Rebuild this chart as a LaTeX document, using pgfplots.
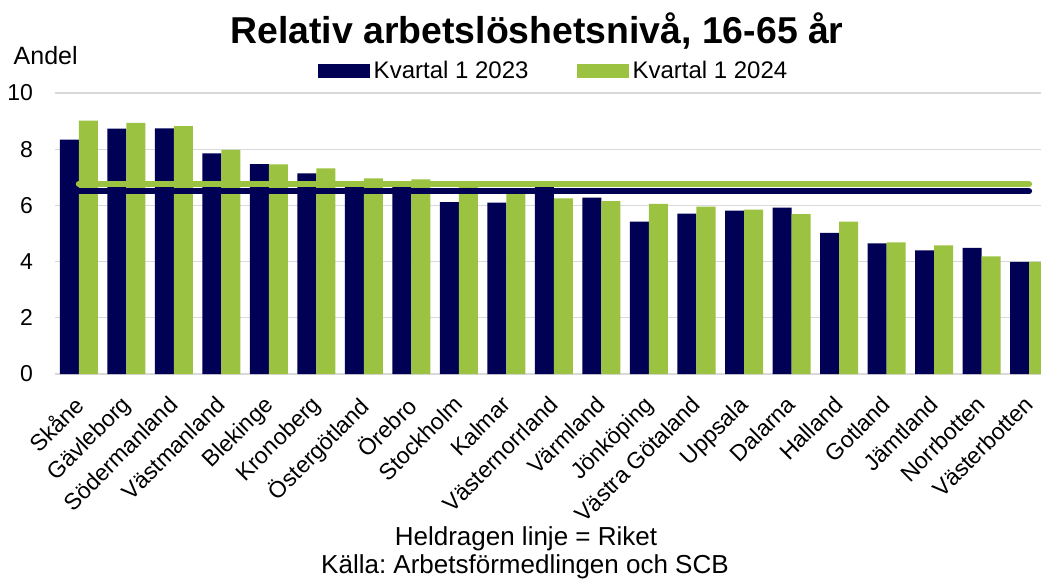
\documentclass[border=0pt]{standalone}
\usepackage{fontspec}
\setmainfont{Liberation Sans}
\usepackage{pgfplots}
\pgfplotsset{compat=1.18}

\definecolor{navy}{RGB}{0,0,84}
\definecolor{lgreen}{RGB}{155,194,64}
\definecolor{gridgray}{RGB}{217,217,217}

% columns: region, Q1 2023, Q1 2024
\pgfplotstableread{
x  a     b
0  8.34  9.02
1  8.73  8.94
2  8.74  8.82
3  7.85  7.98
4  7.47  7.46
5  7.14  7.32
6  6.68  6.96
7  6.66  6.93
8  6.12  6.65
9  6.10  6.40
10 6.66  6.25
11 6.28  6.15
12 5.42  6.05
13 5.71  5.96
14 5.81  5.85
15 5.92  5.69
16 5.02  5.42
17 4.65  4.68
18 4.40  4.58
19 4.49  4.19
20 3.99  3.99
}\regions

\begin{document}
\frenchspacing
\begin{tikzpicture}
  \begin{axis}[
    at={(0,0)}, anchor=south west,
    scale only axis,
    width=493pt, height=140.5pt,
    xmin=-0.5, xmax=20.25,
    ymin=0, ymax=10,
    ytick={0,2,...,10},
    xtick={0,...,20},
    xticklabels={Skåne,Gävleborg,Södermanland,Västmanland,Blekinge,Kronoberg,
      Östergötland,Örebro,Stockholm,Kalmar,Västernorrland,Värmland,Jönköping,
      Västra Götaland,Uppsala,Dalarna,Halland,Gotland,Jämtland,Norrbotten,Västerbotten},
    axis line style={draw=none},
    major tick length=0pt,
    ymajorgrids,
    grid style={gridgray, line width=0.65pt},
    /pgf/number format/assume math mode=true,
    yticklabel style={font=\fontsize{11.5}{13}\selectfont, anchor=east,
      inner sep=0pt, xshift=-10.85pt},
    xticklabel style={font=\fontsize{11.5}{13}\selectfont,
      xshift=-3.25pt, yshift=-10pt, rotate=45,
      anchor=north east, inner sep=0pt},
    legend style={at={(axis description cs:0.5066,1.078)}, anchor=center,
      draw=none, fill=none, legend columns=2,
      font=\fontsize{12}{14}\selectfont,
      /tikz/every even column/.append style={column sep=22pt}},
    legend image code/.code={\fill (0pt,-3.5pt) rectangle (26pt,3.5pt);},
  ]
    \addplot[ybar, bar width=0.4, bar shift=-0.2, fill=navy, draw=none]
      table[x=x, y=a] {\regions};
    \addlegendentry{Kvartal 1 2023}
    \addplot[ybar, bar width=0.4, bar shift=0.2, fill=lgreen, draw=none]
      table[x=x, y=b] {\regions};
    \addlegendentry{Kvartal 1 2024}
    % national level (Riket)
    \addplot[forget plot, sharp plot, draw=lgreen, line width=3pt, line cap=round]
      coordinates {(0,6.76) (20,6.76)};
    \addplot[forget plot, sharp plot, draw=navy, line width=3pt, line cap=round]
      coordinates {(0,6.50) (20,6.50)};
  \end{axis}

  \node[anchor=base, inner sep=0pt, font=\bfseries\fontsize{18.7}{20}\selectfont]
    at (241pt,165.3pt) {Relativ arbetslöshetsnivå, 16-65 år};
  \node[anchor=base west, inner sep=0pt, font=\fontsize{12.5}{14}\selectfont]
    at (-20.85pt,154.5pt) {Andel};
  \node[anchor=base, inner sep=0pt, font=\fontsize{13}{15}\selectfont]
    at (235.5pt,-85.5pt) {Heldragen linje = Riket};
  \node[anchor=base, inner sep=0pt, font=\fontsize{13}{15}\selectfont]
    at (235pt,-99.5pt) {Källa: Arbetsförmedlingen och SCB};

  \pgfresetboundingbox
  \useasboundingbox (-27.5pt,-102.5pt) rectangle (493pt,187pt);
\end{tikzpicture}
\end{document}
